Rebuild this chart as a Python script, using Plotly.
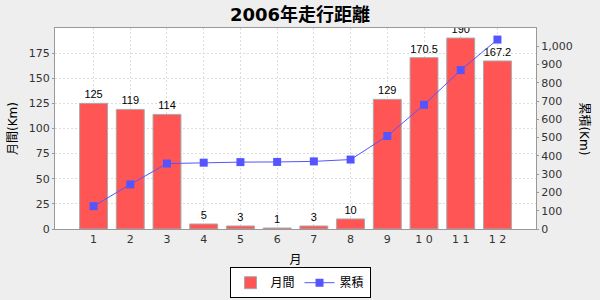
import plotly.graph_objects as go

months = list(range(1, 13))
month_labels = ["1", "2", "3", "4", "5", "6", "7", "8", "9", "1 0", "1 1", "1 2"]
monthly = [125, 119, 114, 5, 3, 1, 3, 10, 129, 170.5, 190, 167.2]
cumulative = [125, 244, 358, 363, 366, 367, 370, 380, 509, 679.5, 869.5, 1036.7]
bar_text = ["125", "119", "114", "5", "3", "1", "3", "10", "129", "170.5", "190", "167.2"]

FONT = "DejaVu Sans, Noto Sans CJK JP, sans-serif"

fig = go.Figure()
fig.add_trace(go.Bar(
    x=months, y=monthly, name="月間",
    marker=dict(color="#FF5555", line=dict(color="#AAAAAA", width=1)),
    width=0.76,
    text=bar_text, textposition="outside",
    textfont=dict(size=11, color="#000000", family="Liberation Sans, Noto Sans CJK JP, sans-serif"),
    cliponaxis=True,
))
fig.add_trace(go.Scatter(
    x=months, y=cumulative, name="累積", yaxis="y2",
    mode="lines+markers",
    line=dict(color="#5555FF", width=1),
    marker=dict(symbol="square", size=8, color="#5555FF"),
))

grid = dict(showgrid=True, gridcolor="#DDDDDD", griddash="2px,2px", gridwidth=1)

fig.update_layout(
    width=600, height=300,
    paper_bgcolor="#EEEEEE", plot_bgcolor="#FFFFFF",
    margin=dict(l=55, r=64, t=28, b=71, autoexpand=False),
    font=dict(family=FONT, size=11, color="#333333"),
    title=dict(text="<b>2006年走行距離</b>", x=0.5, xanchor="center", y=0.95, yanchor="middle",
               font=dict(size=18, color="#000000", family=FONT)),
    xaxis=dict(
        range=[-0.05, 13.05], tickmode="array", tickvals=months, ticktext=month_labels,
        title=dict(text="月", font=dict(size=12, color="#000000"), standoff=14),
        showline=True, linecolor="#999999", mirror=True, ticks="", zeroline=False,
        tickfont=dict(size=11, color="#333333"), automargin=False,
        **grid,
    ),
    yaxis=dict(
        range=[0, 200], tickvals=[0, 25, 50, 75, 100, 125, 150, 175],
        title=dict(text="月間(Km)", font=dict(size=12, color="#000000"), standoff=8),
        showline=True, linecolor="#999999", ticks="outside", ticklen=2, tickcolor="#999999",
        zeroline=False, tickfont=dict(size=11, color="#333333"), automargin=False,
        **grid,
    ),
    yaxis2=dict(
        range=[0, 1100], overlaying="y", side="right",
        tickvals=[0, 100, 200, 300, 400, 500, 600, 700, 800, 900, 1000],
        ticktext=["0", "100", "200", "300", "400", "500", "600", "700", "800", "900", "1,000"],
        showline=True, linecolor="#999999", ticks="outside", ticklen=2, tickcolor="#999999",
        showgrid=False, zeroline=False, tickfont=dict(size=11, color="#333333"), automargin=False,
    ),
    legend=dict(
        orientation="h", x=0.5, xanchor="center", y=0.006, yanchor="bottom",
        xref="container", yref="container",
        bgcolor="#FFFFFF", bordercolor="#000000", borderwidth=1,
        font=dict(size=12, color="#000000"),
        itemwidth=30, tracegroupgap=0,
    ),
    showlegend=True,
)

fig.add_annotation(
    text="累積(Km)", textangle=90, xref="paper", yref="paper",
    x=1.1, y=0.5, xanchor="center", yanchor="middle", showarrow=False,
    font=dict(size=12, color="#000000", family=FONT),
)

fig.write_html("out.html")
